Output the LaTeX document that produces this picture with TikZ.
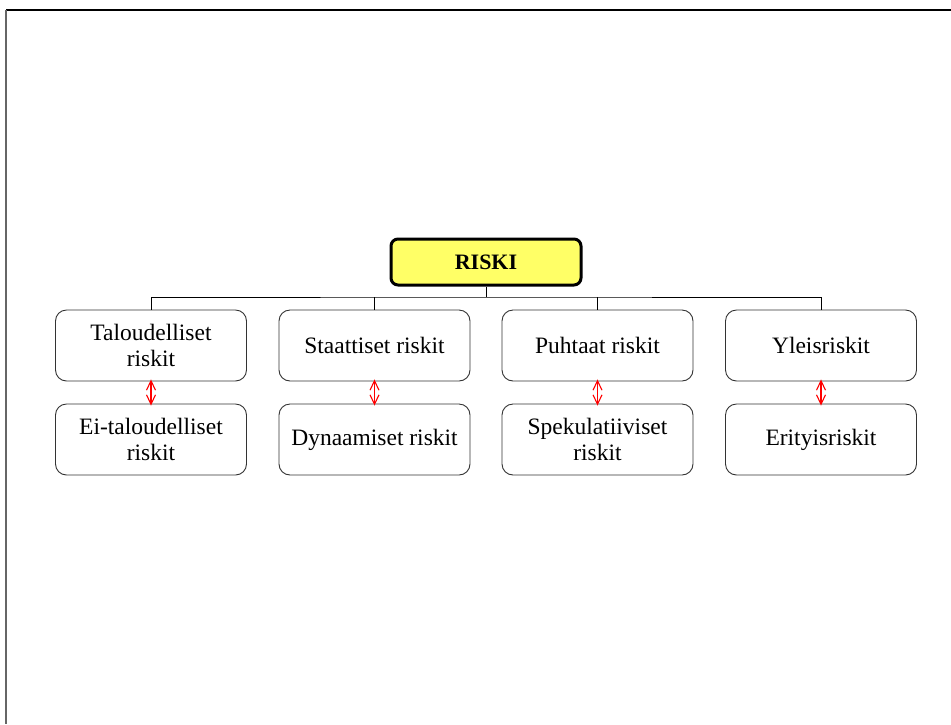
\documentclass[tikz,border=0pt]{standalone}
\usepackage{fontspec}
\setmainfont{Liberation Serif}
\usetikzlibrary{arrows.meta}
\definecolor{rootfill}{RGB}{255,255,102}
\tikzset{
  rootbox/.style={draw=black, line width=3pt, rounded corners=7pt, fill=rootfill,
    minimum width=190pt, minimum height=46pt, inner sep=0pt,
    font=\fontsize{22}{26}\selectfont\bfseries},
  riskbox/.style={draw=black!80, line width=0.9pt, rounded corners=11pt, fill=white,
    minimum width=191pt, minimum height=71pt, inner sep=0pt, align=center,
    font=\fontsize{23.5}{26}\selectfont},
  tree/.style={draw=black, line width=1pt},
  pair/.style={draw=red, line width=1.1pt,
    {Straight Barb[length=9.5pt,width=9pt]}-{Straight Barb[length=9.5pt,width=9pt]}},
}
\begin{document}
\begin{tikzpicture}[x=1pt,y=-1pt]
  \useasboundingbox (0,0) rectangle (951,724);
  % page frame
  \draw[black, line width=1.2pt] (6,10) -- (951,10);
  \draw[black!60, line width=1.2pt] (6,10) -- (6,724);

  % root
  \node[rootbox] (root) at (486,262) {RISKI};

  % first row
  \node[riskbox] (a1) at (151,345.5) {Taloudelliset\\riskit};
  \node[riskbox] (b1) at (374.5,345.5) {Staattiset riskit};
  \node[riskbox] (c1) at (597.5,345.5) {Puhtaat riskit};
  \node[riskbox] (d1) at (821,345.5) {Yleisriskit};

  % second row
  \node[riskbox] (a2) at (151,439.5) {Ei-taloudelliset\\riskit};
  \node[riskbox] (b2) at (374.5,439.5) {Dynaamiset riskit};
  \node[riskbox] (c2) at (597.5,439.5) {Spekulatiiviset\\riskit};
  \node[riskbox] (d2) at (821,439.5) {Erityisriskit};

  % branching lines
  \coordinate (bus) at (486,297);
  \draw[tree] (root.south) -- (bus);
  \draw[tree] (a1.north) |- (bus) -| (d1.north);
  \draw[tree] (b1.north) -- (b1.north |- bus);
  \draw[tree] (c1.north) -- (c1.north |- bus);

  % opposite pairs
  \foreach \p in {a,b,c,d}{
    \draw[pair] ([yshift=2pt]\p1.south) -- ([yshift=-2pt]\p2.north);
  }
\end{tikzpicture}
\end{document}
